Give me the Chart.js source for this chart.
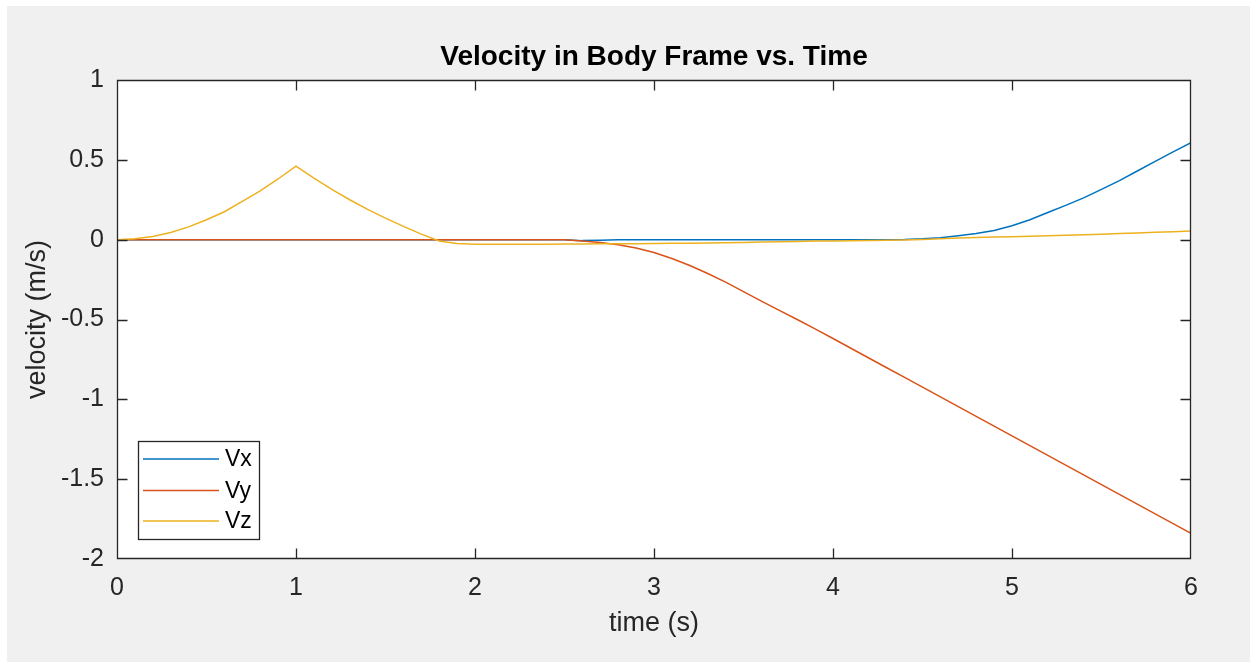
<!DOCTYPE html>
<html>
<head>
<meta charset="utf-8">
<script src="https://cdn.jsdelivr.net/npm/chart.js@4.4.1/dist/chart.umd.min.js"></script>
<style>
html,body{margin:0;padding:0;background:#ffffff;}
#wrap{position:absolute;left:0;top:0;width:1250px;height:662px;}
</style>
</head>
<body>
<div id="wrap"><canvas id="c" width="1250" height="662"></canvas></div>
<script>
// ---- data ----
const timeS = [0,0.1,0.2,0.3,0.4,0.5,0.6,0.7,0.8,0.9,1.0,1.1,1.2,1.3,1.4,1.5,1.6,1.7,1.8,1.9,2.0,
  2.1,2.2,2.3,2.4,2.5,2.6,2.7,2.8,2.9,3.0,3.1,3.2,3.3,3.4,3.5,3.6,3.7,3.8,3.9,4.0,
  4.1,4.2,4.3,4.4,4.5,4.6,4.7,4.8,4.9,5.0,5.1,5.2,5.3,5.4,5.5,5.6,5.7,5.8,5.9,6.0];
const vxValues = [0,0,0,0,0,0,0,0,0,0,0,0,0,0,0,0,0,0,0,0,0,
  0,0,0,0,0,-0.006,-0.003,-0.001,0,0,0,0,0,0,0,0,0,0,0,0,
  0,0,0,0.001,0.005,0.012,0.024,0.038,0.058,0.087,0.125,0.17,0.215,0.262,0.315,0.37,0.43,0.49,0.55,0.607];
const vyValues = [0,0,0,0,0,0,0,0,0,0,0,0,0,0,0,0,0,0,0,0,0,
  0,0,0,0,0,-0.008,-0.018,-0.032,-0.052,-0.08,-0.118,-0.162,-0.212,-0.266,-0.325,-0.385,-0.443,-0.5,-0.559,-0.619,
  -0.68,-0.741,-0.802,-0.863,-0.924,-0.985,-1.046,-1.107,-1.168,-1.229,-1.29,-1.351,-1.412,-1.473,-1.534,-1.595,-1.656,-1.717,-1.778,-1.839];
const vzValues = [0,0.006,0.02,0.045,0.08,0.125,0.175,0.24,0.305,0.38,0.46,0.385,0.315,0.25,0.19,0.135,0.083,0.035,-0.008,-0.024,-0.028,
  -0.028,-0.028,-0.028,-0.028,-0.027,-0.027,-0.026,-0.026,-0.025,-0.024,-0.023,-0.022,-0.021,-0.019,-0.017,-0.015,-0.013,-0.011,-0.009,-0.008,
  -0.007,-0.006,-0.004,-0.002,0.001,0.006,0.01,0.013,0.016,0.019,0.022,0.025,0.028,0.031,0.034,0.038,0.042,0.046,0.05,0.054];
const seriesNames = ['Vx','Vy','Vz'];
const xTicks = [0,1,2,3,4,5,6];
const yTicks = [-2,-1.5,-1,-0.5,0,0.5,1];
const yTickLabels = ['-2','-1.5','-1','-0.5','0','0.5','1'];
const xTickLabels = ['0','1','2','3','4','5','6'];

const colors = ['#0072BD','#D95319','#EDB120'];
const FONT = "'Liberation Sans', Arial, Helvetica, sans-serif";
const AX = '#262626';

function pts(vals){ return timeS.map((t,i)=>({x:t,y:vals[i]})); }

const bgPlugin = {
  id:'bg',
  beforeDraw(chart){
    const ctx = chart.ctx, a = chart.chartArea;
    ctx.save();
    ctx.fillStyle = '#ffffff';
    ctx.fillRect(0,0,chart.width,chart.height);
    ctx.fillStyle = '#f0f0f0';
    ctx.fillRect(7,6,chart.width-7,chart.height-6);
    ctx.fillStyle = '#ffffff';
    ctx.fillRect(a.left,a.top,a.right-a.left,a.bottom-a.top);
    ctx.restore();
  }
};

const framePlugin = {
  id:'frame',
  afterDatasetsDraw(chart){
    const ctx = chart.ctx, a = chart.chartArea;
    const xs = chart.scales.x, ys = chart.scales.y;
    const L = Math.round(a.left)+0.5, R = Math.round(a.right)-0.5, T = Math.round(a.top)+0.5, B = Math.round(a.bottom)-0.5;
    const clamp = (v,lo,hi)=>Math.min(hi,Math.max(lo,v));
    ctx.save();
    ctx.strokeStyle = AX;
    ctx.lineWidth = 1.3;
    ctx.beginPath();
    ctx.rect(L,T,R-L,B-T);
    const tl = 10;
    xTicks.forEach(v=>{
      const px = clamp(Math.round(xs.getPixelForValue(v))+0.5, L, R);
      ctx.moveTo(px,B); ctx.lineTo(px,B-tl);
      ctx.moveTo(px,T); ctx.lineTo(px,T+tl);
    });
    yTicks.forEach(v=>{
      const py = clamp(Math.round(ys.getPixelForValue(v))+0.5, T, B);
      ctx.moveTo(L,py); ctx.lineTo(L+tl,py);
      ctx.moveTo(R,py); ctx.lineTo(R-tl,py);
    });
    ctx.stroke();

    // legend box (lower left inside axes)
    const bx = 138, by = 441, bw = 121, bh = 98;
    ctx.fillStyle = '#ffffff';
    ctx.fillRect(bx,by,bw,bh);
    ctx.strokeStyle = AX;
    ctx.lineWidth = 1.3;
    ctx.strokeRect(bx+0.5,by+0.5,bw,bh);
    const rowY = [459, 490.5, 521];
    chart.data.datasets.forEach((ds,i)=>{
      ctx.strokeStyle = ds.borderColor;
      ctx.lineWidth = 1.5;
      ctx.beginPath();
      ctx.moveTo(143,rowY[i]); ctx.lineTo(219,rowY[i]);
      ctx.stroke();
      ctx.fillStyle = '#000000';
      ctx.font = '23px ' + FONT;
      ctx.textBaseline = 'middle';
      ctx.textAlign = 'left';
      ctx.fillText(ds.label, 225, rowY[i]+1);
    });
    ctx.restore();
  }
};

new Chart(document.getElementById('c'), {
  type:'line',
  data:{
    datasets:[
      {label:seriesNames[0], data:pts(vxValues), borderColor:colors[0], order:3},
      {label:seriesNames[1], data:pts(vyValues), borderColor:colors[1], order:2},
      {label:seriesNames[2], data:pts(vzValues), borderColor:colors[2], order:1}
    ]
  },
  options:{
    responsive:false,
    devicePixelRatio:1,
    animation:false,
    parsing:false,
    normalized:true,
    elements:{
      line:{borderWidth:1.5, tension:0, fill:false},
      point:{radius:0, hoverRadius:0}
    },
    layout:{padding:{left:0,right:59,top:0,bottom:0}},
    plugins:{
      legend:{display:false},
      tooltip:{enabled:false},
      title:{
        display:true,
        fullSize:false,
        text:'Velocity in Body Frame vs. Time',
        color:'#000000',
        font:{family:FONT, size:28, weight:'bold', lineHeight:1.2},
        padding:{top:40.7, bottom:5.7}
      }
    },
    scales:{
      x:{
        type:'linear', min:0, max:6,
        grid:{display:false, drawTicks:false},
        border:{display:false},
        afterBuildTicks(s){ s.ticks = xTicks.map(v=>({value:v})); },
        afterFit(s){ s.height = 103; },
        ticks:{
          color:AX, padding:14.3, maxRotation:0, autoSkip:false,
          font:{family:FONT, size:25},
          callback(v){ const i = xTicks.indexOf(v); return i>=0 ? xTickLabels[i] : ''; }
        },
        title:{display:true, text:'time (s)', color:AX, font:{family:FONT, size:27}, padding:{top:0,bottom:21.8}}
      },
      y:{
        type:'linear', min:-2, max:1,
        grid:{display:false, drawTicks:false},
        border:{display:false},
        afterBuildTicks(s){ s.ticks = yTicks.map(v=>({value:v})); },
        afterFit(s){ s.width = 117; },
        ticks:{
          color:AX, padding:13, autoSkip:false,
          font:{family:FONT, size:25},
          callback(v){ const i = yTicks.indexOf(v); return i>=0 ? yTickLabels[i] : ''; }
        },
        title:{display:true, text:'velocity (m/s)', color:AX, font:{family:FONT, size:27}, padding:{top:21.8,bottom:0}}
      }
    }
  },
  plugins:[bgPlugin, framePlugin]
});
</script>
</body>
</html>
